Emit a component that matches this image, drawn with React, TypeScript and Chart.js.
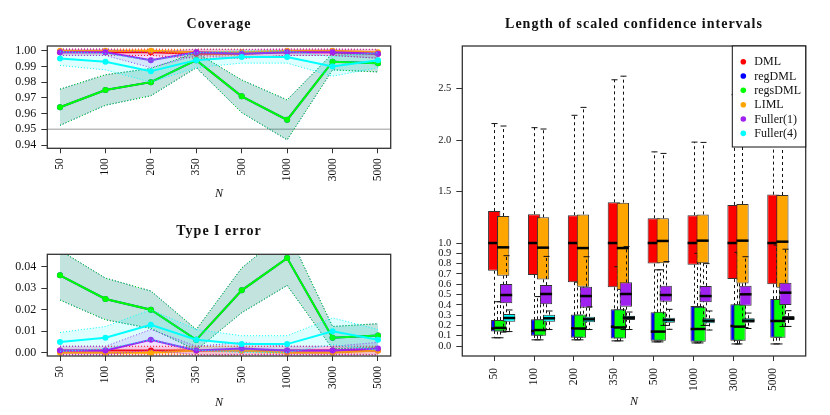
import React, { useEffect, useRef } from 'react';
import { Chart, registerables } from 'chart.js';
Chart.register(...registerables);

const SERIF = '"Liberation Serif", "Times New Roman", serif';

const N_LABELS = ['50', '100', '200', '350', '500', '1000', '3000', '5000'];
const N_POS = [1, 2, 3, 4, 5, 6, 7, 8];
const SERIES_NAMES = ['DML', 'regDML', 'regsDML', 'LIML', 'Fuller(1)', 'Fuller(4)'];
const SERIES_COLORS = ['#FF0000', '#0000FF', '#00FF00', '#FFA500', '#A020F0', '#00FFFF'];

// ---- Coverage ----
const COV_TICKS = [0.94, 0.95, 0.96, 0.97, 0.98, 0.99, 1.0];
const COV_REF = 0.95;
const COV_DML = [0.999, 0.999, 0.999, 0.998, 0.998, 0.999, 0.999, 0.998];
const COV_DML_LO = [0.997, 0.997, 0.997, 0.9952, 0.9952, 0.997, 0.997, 0.9952];
const COV_DML_HI = [1.001, 1.001, 1.001, 1.0008, 1.0008, 1.001, 1.001, 1.0008];
const COV_REG = [0.964, 0.975, 0.98, 0.994, 0.971, 0.956, 0.993, 0.992];
const COV_REG_LO = [0.9525, 0.9653, 0.9713, 0.9892, 0.9606, 0.9433, 0.9878, 0.9865];
const COV_REG_HI = [0.9755, 0.9847, 0.9887, 0.9988, 0.9814, 0.9687, 0.9982, 0.9975];
const COV_REGS = [0.964, 0.975, 0.98, 0.994, 0.971, 0.956, 0.993, 0.992];
const COV_REGS_LO = [0.9525, 0.9653, 0.9713, 0.9892, 0.9606, 0.9433, 0.9878, 0.9865];
const COV_REGS_HI = [0.9755, 0.9847, 0.9887, 0.9988, 0.9814, 0.9687, 0.9982, 0.9975];
const COV_LIML = [1.0, 1.0, 1.0, 0.999, 0.999, 1.0, 1.0, 0.999];
const COV_LIML_LO = [1.0, 1.0, 1.0, 0.997, 0.997, 1.0, 1.0, 0.997];
const COV_LIML_HI = [1.0, 1.0, 1.0, 1.001, 1.001, 1.0, 1.0, 1.001];
const COV_F1 = [0.999, 0.999, 0.994, 0.999, 0.998, 0.999, 0.999, 0.998];
const COV_F1_LO = [0.997, 0.997, 0.9892, 0.997, 0.9952, 0.997, 0.997, 0.9952];
const COV_F1_HI = [1.001, 1.001, 0.9988, 1.001, 1.0008, 1.001, 1.001, 1.0008];
const COV_F4 = [0.995, 0.993, 0.987, 0.994, 0.996, 0.996, 0.99, 0.994];
const COV_F4_LO = [0.9906, 0.9878, 0.98, 0.9892, 0.9921, 0.9921, 0.9838, 0.9892];
const COV_F4_HI = [0.9994, 0.9982, 0.994, 0.9988, 0.9999, 0.9999, 0.9962, 0.9988];

// ---- Type I error ----
const TI_TICKS = [0, 0.01, 0.02, 0.03, 0.04];
const TI_DML = [0.001, 0.001, 0.001, 0.001, 0.001, 0.001, 0.001, 0.001];
const TI_DML_LO = [-0.001, -0.001, -0.001, -0.001, -0.001, -0.001, -0.001, -0.001];
const TI_DML_HI = [0.003, 0.003, 0.003, 0.003, 0.003, 0.003, 0.003, 0.003];
const TI_REG = [0.036, 0.025, 0.02, 0.006, 0.029, 0.044, 0.007, 0.008];
const TI_REG_LO = [0.0245, 0.0153, 0.0113, 0.0012, 0.0186, 0.0313, 0.0018, 0.0025];
const TI_REG_HI = [0.0476, 0.0347, 0.0287, 0.0108, 0.0394, 0.0567, 0.0122, 0.0135];
const TI_REGS = [0.036, 0.025, 0.02, 0.006, 0.029, 0.044, 0.007, 0.008];
const TI_REGS_LO = [0.0245, 0.0153, 0.0113, 0.0012, 0.0186, 0.0313, 0.0018, 0.0025];
const TI_REGS_HI = [0.0476, 0.0347, 0.0287, 0.0108, 0.0394, 0.0567, 0.0122, 0.0135];
const TI_LIML = [0, 0, 0, 0.001, 0.001, 0, 0, 0.001];
const TI_LIML_LO = [0, 0, 0, -0.001, -0.001, 0, 0, -0.001];
const TI_LIML_HI = [0, 0, 0, 0.003, 0.003, 0, 0, 0.003];
const TI_F1 = [0.001, 0.001, 0.006, 0.001, 0.002, 0.001, 0.001, 0.002];
const TI_F1_LO = [-0.001, -0.001, 0.0012, -0.001, -0.0008, -0.001, -0.001, -0.0008];
const TI_F1_HI = [0.003, 0.003, 0.0108, 0.003, 0.0048, 0.003, 0.003, 0.0048];
const TI_F4 = [0.005, 0.007, 0.013, 0.006, 0.004, 0.004, 0.01, 0.006];
const TI_F4_LO = [0.0006, 0.0018, 0.006, 0.0012, 0.0001, 0.0001, 0.0038, 0.0012];
const TI_F4_HI = [0.0094, 0.0122, 0.02, 0.0108, 0.0079, 0.0079, 0.0162, 0.0108];

// ---- Length of scaled CIs: [min, q1, median, q3, max] per N ----
const LEN_TICKS = [0, 0.1, 0.2, 0.3, 0.4, 0.5, 0.6, 0.7, 0.8, 0.9, 1.0, 1.5, 2.0, 2.5];
const LEN_DML = [
  [0.08, 0.73, 1.0, 1.31, 2.16],
  [0.06, 0.69, 1.0, 1.28, 2.12],
  [0.06, 0.62, 1.0, 1.27, 2.24],
  [0.05, 0.57, 1.0, 1.395, 2.585],
  [0.04, 0.8, 1.0, 1.24, 1.885],
  [0.03, 0.79, 1.0, 1.27, 1.98],
  [0.02, 0.65, 1.0, 1.37, 2.44],
  [0.02, 0.6, 1.0, 1.47, 2.78],
];
const LEN_REG = [
  [0.08, 0.14, 0.17, 0.252, 0.43],
  [0.06, 0.1, 0.146, 0.259, 0.48],
  [0.06, 0.081, 0.172, 0.307, 0.62],
  [0.05, 0.074, 0.188, 0.356, 0.77],
  [0.04, 0.052, 0.14, 0.327, 0.74],
  [0.03, 0.042, 0.165, 0.388, 0.9],
  [0.02, 0.05, 0.194, 0.405, 0.91],
  [0.02, 0.081, 0.243, 0.456, 0.98],
];
const LEN_REGS = [
  [0.08, 0.14, 0.176, 0.252, 0.43],
  [0.06, 0.1, 0.155, 0.259, 0.48],
  [0.06, 0.081, 0.17, 0.307, 0.62],
  [0.05, 0.074, 0.18, 0.356, 0.77],
  [0.04, 0.05, 0.14, 0.333, 0.74],
  [0.03, 0.042, 0.165, 0.382, 0.88],
  [0.02, 0.05, 0.188, 0.405, 0.9],
  [0.02, 0.081, 0.243, 0.456, 0.97],
];
const LEN_LIML = [
  [0.135, 0.683, 0.958, 1.262, 2.136],
  [0.16, 0.647, 0.955, 1.25, 2.107],
  [0.16, 0.576, 0.951, 1.278, 2.317],
  [0.16, 0.544, 0.951, 1.392, 2.62],
  [0.2, 0.803, 1.02, 1.24, 1.87],
  [0.2, 0.803, 1.023, 1.278, 1.977],
  [0.18, 0.608, 1.023, 1.379, 2.5],
  [0.19, 0.566, 1.013, 1.466, 2.7],
];
const LEN_F1 = [
  [0.14, 0.414, 0.495, 0.602, 0.877],
  [0.16, 0.405, 0.505, 0.592, 0.87],
  [0.16, 0.372, 0.485, 0.576, 0.867],
  [0.16, 0.382, 0.505, 0.618, 0.965],
  [0.2, 0.43, 0.495, 0.586, 0.82],
  [0.2, 0.424, 0.485, 0.583, 0.8],
  [0.18, 0.392, 0.502, 0.586, 0.867],
  [0.19, 0.398, 0.518, 0.615, 0.94],
];
const LEN_F4 = [
  [0.14, 0.236, 0.272, 0.311, 0.35],
  [0.16, 0.236, 0.269, 0.304, 0.34],
  [0.16, 0.23, 0.259, 0.285, 0.38],
  [0.16, 0.252, 0.275, 0.294, 0.33],
  [0.162, 0.226, 0.252, 0.275, 0.356],
  [0.155, 0.22, 0.246, 0.269, 0.34],
  [0.17, 0.227, 0.246, 0.269, 0.32],
  [0.19, 0.252, 0.269, 0.291, 0.343],
];
const BOX_SHIFT = 0.075;

function rgba(hex: string, a: number) {
  const n = parseInt(hex.slice(1), 16);
  return `rgba(${(n >> 16) & 255},${(n >> 8) & 255},${n & 255},${a})`;
}

function lineDatasets(series: { color: string; v: number[]; lo: number[]; hi: number[] }[]) {
  const pts = (arr: number[]) => arr.map((y, i) => ({ x: N_POS[i], y }));
  const ds: any[] = [];
  series.forEach((s) => {
    ds.push({ data: pts(s.lo), borderColor: s.color, borderWidth: 1, borderDash: [1, 2], pointRadius: 0, fill: false });
    ds.push({ data: pts(s.hi), borderColor: s.color, borderWidth: 1, borderDash: [1, 2], pointRadius: 0, fill: '-1', backgroundColor: rgba(s.color, 0.13) });
    ds.push({ data: pts(s.v), borderColor: s.color, borderWidth: 2, pointRadius: 3, pointBackgroundColor: s.color, pointBorderWidth: 0, fill: false });
  });
  ds.forEach((d, i) => (d.order = ds.length - i));
  return ds;
}

function framePlugin(title: string, titleY: number, nY: number, extra?: (chart: any) => void) {
  return {
    id: 'frameText',
    afterDraw(chart: any) {
      const { ctx, chartArea: a } = chart;
      ctx.save();
      ctx.strokeStyle = '#333';
      ctx.lineWidth = 1.3;
      ctx.strokeRect(a.left, a.top, a.right - a.left, a.bottom - a.top);
      if (extra) extra(chart);
      ctx.fillStyle = '#111';
      ctx.textAlign = 'center';
      ctx.textBaseline = 'middle';
      ctx.font = `bold 14px ${SERIF}`;
      (ctx as any).letterSpacing = '1px';
      ctx.fillText(title, (a.left + a.right) / 2, titleY);
      (ctx as any).letterSpacing = '0px';
      ctx.font = `italic 12px ${SERIF}`;
      ctx.fillText('N', (a.left + a.right) / 2, nY);
      ctx.restore();
    },
  };
}

const refLinePlugin = (value: number) => ({
  id: 'refLine',
  beforeDatasetsDraw(chart: any) {
    const { ctx, chartArea: a, scales } = chart;
    const y = scales.y.getPixelForValue(value);
    ctx.save();
    ctx.strokeStyle = '#bbbbbb';
    ctx.lineWidth = 1.5;
    ctx.beginPath();
    ctx.moveTo(a.left, y);
    ctx.lineTo(a.right, y);
    ctx.stroke();
    ctx.restore();
  },
});

const boxPlugin = {
  id: 'boxWhiskers',
  beforeDatasetDraw(chart: any, args: any) {
    const ds: any = chart.data.datasets[args.index];
    if (!ds.stats) return;
    const { ctx, chartArea: a, scales } = chart;
    ctx.save();
    ctx.beginPath();
    ctx.rect(a.left, a.top, a.right - a.left, a.bottom - a.top);
    ctx.clip();
    ctx.strokeStyle = '#111';
    ctx.lineWidth = 1;
    ds.stats.forEach((s: number[], i: number) => {
      const x = Math.round(scales.x.getPixelForValue(ds.data[i].x)) + 0.5;
      const [mn, q1, , q3, mx] = s.map((v) => scales.y.getPixelForValue(v));
      ctx.setLineDash([3, 3]);
      ctx.beginPath();
      ctx.moveTo(x, q3);
      ctx.lineTo(x, mx);
      ctx.moveTo(x, q1);
      ctx.lineTo(x, mn);
      ctx.stroke();
      ctx.setLineDash([]);
      ctx.beginPath();
      ctx.moveTo(x - 3, mx);
      ctx.lineTo(x + 3, mx);
      ctx.moveTo(x - 3, mn);
      ctx.lineTo(x + 3, mn);
      ctx.stroke();
    });
    ctx.restore();
  },
  afterDatasetDraw(chart: any, args: any) {
    const ds: any = chart.data.datasets[args.index];
    if (!ds.stats) return;
    const { ctx, scales } = chart;
    ctx.save();
    ctx.strokeStyle = '#000';
    ctx.lineWidth = 2.5;
    ds.stats.forEach((s: number[], i: number) => {
      const x = scales.x.getPixelForValue(ds.data[i].x);
      const y = scales.y.getPixelForValue(s[2]);
      ctx.beginPath();
      ctx.moveTo(x - 6, y);
      ctx.lineTo(x + 6, y);
      ctx.stroke();
    });
    ctx.restore();
  },
};

function drawLegend(chart: any) {
  const { ctx, chartArea: a } = chart;
  const w = 73.4;
  const h = 101;
  const x0 = a.right - w;
  const y0 = a.top;
  ctx.fillStyle = '#fff';
  ctx.fillRect(x0, y0, w, h);
  ctx.strokeStyle = '#111';
  ctx.lineWidth = 1;
  ctx.strokeRect(x0, y0, w, h);
  ctx.font = `12px ${SERIF}`;
  ctx.textAlign = 'left';
  ctx.textBaseline = 'middle';
  SERIES_NAMES.forEach((name, k) => {
    const y = y0 + 15.7 + k * 14.33;
    ctx.fillStyle = SERIES_COLORS[k];
    ctx.beginPath();
    ctx.arc(x0 + 11, y, 2.8, 0, Math.PI * 2);
    ctx.fill();
    ctx.fillStyle = '#111';
    ctx.fillText(name, x0 + 22, y + 0.5);
  });
}

function xScale(min: number, max: number, height: number, pad: number) {
  return {
    type: 'linear',
    min,
    max,
    bounds: 'data',
    offset: false,
    afterBuildTicks: (s: any) => {
      s.ticks = N_POS.map((v) => ({ value: v }));
    },
    afterFit: (s: any) => {
      s.height = height;
    },
    ticks: {
      autoSkip: false,
      minRotation: 90,
      maxRotation: 90,
      padding: pad,
      color: '#111',
      font: { family: SERIF, size: 11.5 },
      callback: (v: number) => N_LABELS[Math.round(v) - 1],
    },
    grid: { display: true, drawOnChartArea: false, drawTicks: true, tickLength: 5, color: '#333', offset: false },
    border: { display: false },
  };
}

function yScale(min: number, max: number, ticks: number[], digits: number, size: number) {
  return {
    type: 'linear',
    min,
    max,
    bounds: 'data',
    afterBuildTicks: (s: any) => {
      s.ticks = ticks.map((v) => ({ value: v }));
    },
    afterFit: (s: any) => {
      s.width = 47.3;
    },
    ticks: {
      autoSkip: false,
      padding: 5,
      color: '#111',
      font: { family: SERIF, size },
      callback: (v: number) => Number(v).toFixed(digits),
    },
    grid: { display: true, drawOnChartArea: false, drawTicks: true, tickLength: 6, color: '#333' },
    border: { display: false },
  };
}

const baseOptions = (padTop: number) => ({
  animation: false,
  responsive: false,
  events: [],
  layout: { padding: { top: padTop, right: 24.3, left: 0, bottom: 0 } },
  plugins: { legend: { display: false }, tooltip: { enabled: false }, title: { display: false } },
  elements: { line: { tension: 0 } },
});

export default function App() {
  const covRef = useRef<HTMLCanvasElement>(null);
  const tiRef = useRef<HTMLCanvasElement>(null);
  const lenRef = useRef<HTMLCanvasElement>(null);

  useEffect(() => {
    const cov = new Chart(covRef.current as HTMLCanvasElement, {
      type: 'line',
      data: {
        datasets: lineDatasets([
          { color: SERIES_COLORS[0], v: COV_DML, lo: COV_DML_LO, hi: COV_DML_HI },
          { color: SERIES_COLORS[1], v: COV_REG, lo: COV_REG_LO, hi: COV_REG_HI },
          { color: SERIES_COLORS[2], v: COV_REGS, lo: COV_REGS_LO, hi: COV_REGS_HI },
          { color: SERIES_COLORS[3], v: COV_LIML, lo: COV_LIML_LO, hi: COV_LIML_HI },
          { color: SERIES_COLORS[4], v: COV_F1, lo: COV_F1_LO, hi: COV_F1_HI },
          { color: SERIES_COLORS[5], v: COV_F4, lo: COV_F4_LO, hi: COV_F4_HI },
        ]),
      },
      options: {
        ...baseOptions(46),
        scales: {
          x: xScale(0.72, 8.28, 58.7, 5),
          y: yScale(0.9379, 1.003, COV_TICKS, 2, 12),
        },
      } as any,
      plugins: [refLinePlugin(COV_REF), framePlugin('Coverage', 24, 194)],
    });

    const ti = new Chart(tiRef.current as HTMLCanvasElement, {
      type: 'line',
      data: {
        datasets: lineDatasets([
          { color: SERIES_COLORS[0], v: TI_DML, lo: TI_DML_LO, hi: TI_DML_HI },
          { color: SERIES_COLORS[1], v: TI_REG, lo: TI_REG_LO, hi: TI_REG_HI },
          { color: SERIES_COLORS[2], v: TI_REGS, lo: TI_REGS_LO, hi: TI_REGS_HI },
          { color: SERIES_COLORS[3], v: TI_LIML, lo: TI_LIML_LO, hi: TI_LIML_HI },
          { color: SERIES_COLORS[4], v: TI_F1, lo: TI_F1_LO, hi: TI_F1_HI },
          { color: SERIES_COLORS[5], v: TI_F4, lo: TI_F4_LO, hi: TI_F4_HI },
        ]),
      },
      options: {
        ...baseOptions(47.3),
        scales: {
          x: xScale(0.72, 8.28, 59, 5),
          y: yScale(-0.00153, 0.04577, TI_TICKS, 2, 12),
        },
      } as any,
      plugins: [framePlugin('Type I error', 24.7, 195.7)],
    });

    const boxSeries = [LEN_DML, LEN_REG, LEN_REGS, LEN_LIML, LEN_F1, LEN_F4];
    const len = new Chart(lenRef.current as HTMLCanvasElement, {
      type: 'bar',
      data: {
        datasets: boxSeries.map((stats, k) => ({
          data: stats.map((st, i) => ({ x: N_POS[i] + k * BOX_SHIFT, y: [st[1], st[3]] })),
          stats,
          backgroundColor: SERIES_COLORS[k],
          borderColor: '#333',
          borderWidth: 1,
          borderSkipped: false,
          grouped: false,
          barPercentage: 10,
          categoryPercentage: 1,
          maxBarThickness: 12.3,
          order: 6 - k,
        })) as any,
      },
      options: {
        ...baseOptions(46),
        scales: {
          x: xScale(0.2, 8.81, 59, 7),
          y: yScale(-0.097, 2.913, LEN_TICKS, 1, 10.5),
        },
      } as any,
      plugins: [boxPlugin, framePlugin('Length of scaled confidence intervals', 24, 401.7, drawLegend)],
    });

    return () => {
      cov.destroy();
      ti.destroy();
      len.destroy();
    };
  }, []);

  const cs = (left: number, top: number, w: number, h: number) => ({
    position: 'absolute' as const,
    left,
    top,
    width: w,
    height: h,
  });

  return (
    <div style={{ position: 'fixed', left: 0, top: 0, width: 830, height: 415, background: '#fff', overflow: 'hidden' }}>
      <canvas ref={covRef} width={415} height={207} style={cs(0, 0, 415, 207)} />
      <canvas ref={tiRef} width={415} height={208} style={cs(0, 207, 415, 208)} />
      <canvas ref={lenRef} width={415} height={415} style={cs(415, 0, 415, 415)} />
    </div>
  );
}
